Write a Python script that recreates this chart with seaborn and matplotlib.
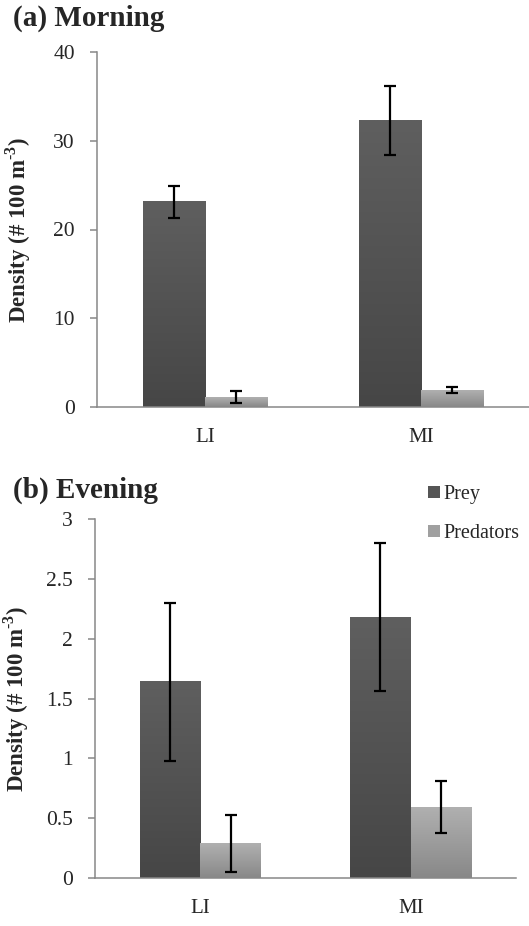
import matplotlib
matplotlib.use("Agg")
import matplotlib.pyplot as plt
import seaborn as sns
import pandas as pd
import numpy as np
from matplotlib.colors import LinearSegmentedColormap
from matplotlib.patches import Patch

sites = ["LI", "MI"]
groups = ["Prey", "Predators"]

morning_prey = [23.1, 32.3]
morning_prey_lo = [21.3, 28.4]
morning_prey_hi = [24.9, 36.2]
morning_pred = [1.1, 1.9]
morning_pred_lo = [0.5, 1.6]
morning_pred_hi = [1.8, 2.2]

evening_prey = [1.64, 2.18]
evening_prey_lo = [0.98, 1.56]
evening_prey_hi = [2.30, 2.80]
evening_pred = [0.29, 0.59]
evening_pred_lo = [0.05, 0.38]
evening_pred_hi = [0.53, 0.81]

sns.set_style("white")
plt.rcParams["font.family"] = ["Liberation Serif", "DejaVu Serif"]
plt.rcParams["mathtext.fontset"] = "custom"
plt.rcParams["mathtext.rm"] = "Liberation Serif"
plt.rcParams["mathtext.bf"] = "Liberation Serif:bold"

colors = {"Prey": "#555555", "Predators": "#a0a0a0"}
grads = {"Prey": ("#464646", "#5f5f5f"), "Predators": ("#888888", "#b0b0b0")}

fig = plt.figure(figsize=(5.29, 9.26), dpi=100)
ax1 = fig.add_axes([97 / 529, 1 - 407 / 926, 432 / 529, 355 / 926])
ax2 = fig.add_axes([95 / 529, 1 - 878 / 926, 421 / 529, 359 / 926])


def panel(ax, prey, plo, phi, pred, dlo, dhi, ymax, yticks, yticklabels, labx):
    df = pd.DataFrame({
        "site": sites * 2,
        "group": ["Prey"] * 2 + ["Predators"] * 2,
        "value": list(prey) + list(pred),
    })
    sns.barplot(data=df, x="site", y="value", hue="group", order=sites,
                hue_order=groups, palette=colors, ax=ax, errorbar=None,
                width=0.575, saturation=1, legend=False, linewidth=0)
    los = list(plo) + list(dlo)
    his = list(phi) + list(dhi)
    vals = list(prey) + list(pred)
    gnames = ["Prey"] * 2 + ["Predators"] * 2
    patches = [p for p in ax.patches][:4]
    for p, v, lo, hi, g in zip(patches, vals, los, his, gnames):
        x0, y0, w, h = p.get_x(), p.get_y(), p.get_width(), p.get_height()
        cmap = LinearSegmentedColormap.from_list("g", list(grads[g]))
        grad = np.linspace(0, 1, 256).reshape(-1, 1)
        ax.imshow(grad, extent=[x0, x0 + w, y0, y0 + h], cmap=cmap,
                  origin="lower", aspect="auto", zorder=2)
        xc = x0 + w / 2
        ax.errorbar([xc], [v], yerr=[[v - lo], [hi - v]], fmt="none",
                    ecolor="black", elinewidth=1.6, capsize=4.5, capthick=1.6,
                    zorder=5)
    ax.set_xlim(-0.5, 1.5)
    ax.set_ylim(0, ymax)
    ax.set_yticks(yticks)
    ax.set_yticklabels(yticklabels, fontsize=15.5)
    ax.set_xticks([0, 1])
    ax.set_xticklabels(sites, fontsize=15)
    ax.set_xticks([0.5, 1.5], minor=True)
    ax.tick_params(axis="x", which="major", length=0, pad=15)
    ax.tick_params(axis="x", which="minor", length=5, color="#888888", width=1.1)
    ax.tick_params(axis="y", which="major", length=5, color="#888888", width=1.1,
                   pad=11, direction="out", left=True)
    for s in ["top", "right"]:
        ax.spines[s].set_visible(False)
    for s in ["left", "bottom"]:
        ax.spines[s].set_color("#888888")
        ax.spines[s].set_linewidth(1.1)
    ax.set_xlabel("")
    ax.set_ylabel("Density (# 100 m$^{\\mathbf{\u20103}}$)", fontsize=16.5,
                  fontweight="bold")
    ax.yaxis.set_label_coords(labx, 0.5)


panel(ax1, morning_prey, morning_prey_lo, morning_prey_hi,
      morning_pred, morning_pred_lo, morning_pred_hi,
      40, [0, 10, 20, 30, 40], ["0", "10", "20", "30", "40"], -0.148)
panel(ax2, evening_prey, evening_prey_lo, evening_prey_hi,
      evening_pred, evening_pred_lo, evening_pred_hi,
      3, [0, 0.5, 1, 1.5, 2, 2.5, 3], ["0", "0.5", "1", "1.5", "2", "2.5", "3"],
      -0.152)

fig.text(13 / 529, 1 - 18 / 926, "(a) Morning", fontsize=21, fontweight="bold",
         va="center")
fig.text(13 / 529, 1 - 490 / 926, "(b) Evening", fontsize=21, fontweight="bold",
         va="center")

handles = [Patch(facecolor=colors[g], edgecolor="none") for g in groups]
fig.legend(handles, groups, loc="upper left", bbox_to_anchor=(428 / 529, 1 - 485 / 926),
           frameon=False, fontsize=14.5, handlelength=0.6, handleheight=0.6,
           handletextpad=0.15, labelspacing=1.0, borderaxespad=0, borderpad=0)

fig.savefig("out.png", dpi=100)
